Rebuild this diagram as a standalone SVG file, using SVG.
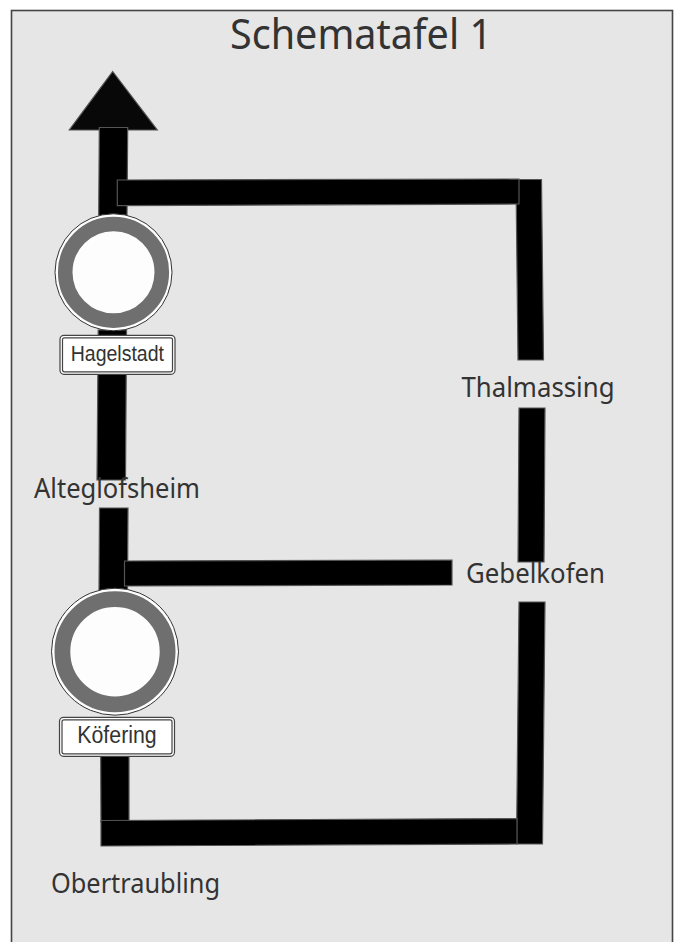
<svg xmlns="http://www.w3.org/2000/svg" width="678" height="942" viewBox="0 0 678 942">
<style>
.road{fill:#000;stroke:#555;stroke-width:1.2}
.lbl{font-family:"Noto Sans",sans-serif;font-size:27px;fill:#333;lengthAdjust:spacingAndGlyphs}
.sign{font-family:"Liberation Sans",sans-serif;fill:#333}
.outer{fill:#fff;stroke:#333;stroke-width:1}
.ring{fill:#fdfdfd;stroke:#6f6f6f}
.plate{fill:#fff;stroke:#444;stroke-width:1.2}
</style>
<rect id="background" x="11.500" y="10.500" width="661" height="940" fill="#e6e6e6" stroke="#444" stroke-width="1.600"/>
<text id="title" x="230" y="48.500" font-family="Noto Sans, sans-serif" font-size="42" fill="#333" textLength="262" lengthAdjust="spacingAndGlyphs">Schematafel 1</text>
<g id="connectors">
<polygon class="road" points="112.700,71.500 157.300,130 69.300,130" fill-opacity="0.97"/>
<polygon class="road" points="99.300,127.500 127.700,127.500 127,216 98.700,216"/>
<polygon class="road" points="98.200,330 126.500,330 125.500,480 97,480"/>
<polygon class="road" points="99.500,508 128,508 127.500,592 99,592"/>
<polygon class="road" points="100.700,756 129,756 129,822 101,822"/>
<polygon class="road" points="516,179.500 541.500,179.500 543.500,360 518,360"/>
<polygon class="road" points="519,408 545,408 544,562 518,562"/>
<polygon class="road" points="519,602 545,602 542.500,844 516.500,844"/>
<polygon class="road" points="117.300,180 519,179 519,204 117.300,205.700"/>
<polygon class="road" points="124.500,561 452,560 452,585 124.500,586"/>
<polygon class="road" points="101,820.500 517,818.500 517,844 101,846"/>
</g>
<g id="hagelstadt">
<circle class="outer" cx="113.500" cy="272.300" r="58.500"/>
<circle class="ring" cx="113.500" cy="272.300" r="48.300" stroke-width="14.600"/>
<rect class="plate" x="60" y="335.300" width="115" height="39" rx="4"/>
<rect class="plate" x="62.500" y="337.800" width="110" height="34" rx="2"/>
<text class="sign" x="70.700" y="361" font-size="22" textLength="93.300" lengthAdjust="spacingAndGlyphs">Hagelstadt</text>
</g>
<g id="koefering">
<circle class="outer" cx="115" cy="651.700" r="63.500"/>
<circle class="ring" cx="115" cy="651.700" r="52.600" stroke-width="15.800"/>
<rect class="plate" x="59.500" y="717.300" width="115" height="39" rx="4"/>
<rect class="plate" x="62" y="719.800" width="110" height="34" rx="2"/>
<text class="sign" x="77.300" y="742.700" font-size="23.500" textLength="79.400" lengthAdjust="spacingAndGlyphs">Köfering</text>
</g>
<g id="labels">
<text class="lbl" x="461.500" y="397" textLength="153" lengthAdjust="spacingAndGlyphs">Thalmassing</text>
<text class="lbl" x="34" y="498" textLength="166" lengthAdjust="spacingAndGlyphs">Alteglofsheim</text>
<text class="lbl" x="466" y="583" textLength="139" lengthAdjust="spacingAndGlyphs">Gebelkofen</text>
<text class="lbl" x="51" y="893" textLength="169" lengthAdjust="spacingAndGlyphs">Obertraubling</text>
</g>
</svg>
